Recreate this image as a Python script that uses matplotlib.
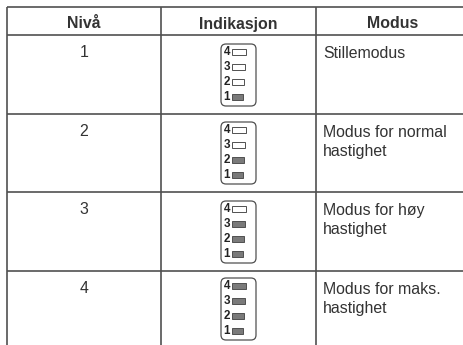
import matplotlib
matplotlib.use('Agg')
import matplotlib.pyplot as plt
from matplotlib.patches import FancyBboxPatch, Rectangle

headers = ['Nivå', 'Indikasjon', 'Modus']
levels = ['1', '2', '3', '4']
modes = ['Stillemodus', 'Modus for normal\nhastighet', 'Modus for høy\nhastighet', 'Modus for maks.\nhastighet']
lit_counts = [1, 2, 3, 4]
segment_labels = ['4', '3', '2', '1']

plt.rcParams['font.family'] = ['Liberation Sans', 'DejaVu Sans']

fig = plt.figure(figsize=(4.64, 3.45), dpi=100)
ax = fig.add_axes([0, 0, 1, 1])
ax.set_xlim(0, 464)
ax.set_ylim(345, 0)
ax.axis('off')

# table grid
line_col = '#505050'
col_x = [7, 161, 316, 464]
row_y = [7, 35, 114, 192, 271]
header_x = [84, 238, 393]
for x in col_x[:3]:
    ax.plot([x, x], [7, 345], color=line_col, lw=1.2, solid_capstyle='butt')
for y in row_y:
    ax.plot([7, 464], [y, y], color=line_col, lw=1.2, solid_capstyle='butt')

# header
text_col = '#333333'
for i, h in enumerate(headers):
    ax.text(header_x[i], 28.5, h, ha='center', va='baseline',
            fontsize=11.4, fontweight='bold', color=text_col)

box_tops = [44, 122, 201, 278]
for r in range(4):
    top = row_y[r + 1]
    ax.text(84, top + 22, levels[r], ha='center', va='baseline', fontsize=11.4, color=text_col)
    ax.text(323, top + 11, modes[r], ha='left', va='top', fontsize=11.4, color=text_col, linespacing=1.32)

    # indicator panel
    by = box_tops[r]
    ax.add_patch(FancyBboxPatch((221, by), 35, 62, boxstyle='round,pad=0,rounding_size=5',
                                fc='white', ec=line_col, lw=0.9))
    for j, lab in enumerate(segment_labels):
        y = by + 8 + j * 15
        ax.text(226.8, y + 3.2, lab, ha='center', va='baseline', fontsize=8.4, fontweight='bold', color='#222222')
        seg_w = 14 - j * 1.3
        lit = int(lab) <= lit_counts[r]
        ax.add_patch(Rectangle((232.5, y - 3.4), seg_w, 6.8, fc='#7a7a7a' if lit else 'white',
                               ec=line_col, lw=0.7))

fig.savefig('out.png', dpi=100)
